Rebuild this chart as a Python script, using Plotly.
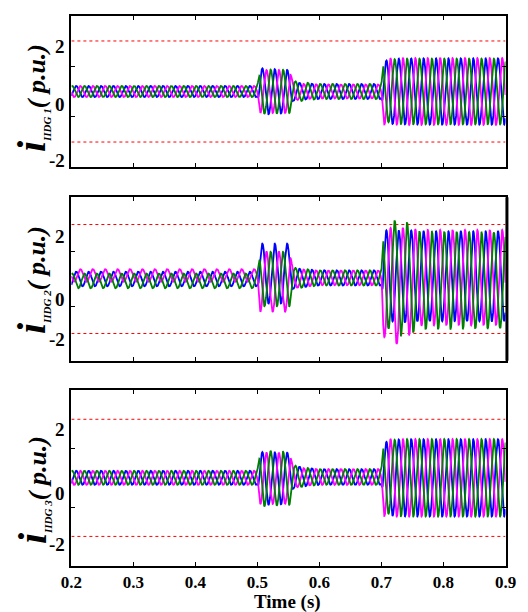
import numpy as np
import plotly.graph_objects as go

# ---------------------------------------------------------------------------
# Axis / tick values
# ---------------------------------------------------------------------------
TIME_START, TIME_END = 0.2, 0.9
X_TICK_VALUES = [0.2, 0.3, 0.4, 0.5, 0.6, 0.7, 0.8, 0.9]
X_TICK_TEXT = ["0.2", "0.3", "0.4", "0.5", "0.6", "0.7", "0.8", "0.9"]
Y_RANGE = [-3, 3]
Y_MINOR_TICKS = [-1, 1]
Y_TICK_TEXT = ["2", "0", "-2"]
LIMIT_LEVELS = [2, -2]          # current limit (p.u.), red dotted lines
GRID_FREQ_HZ = 50
PHASE_REF_DEG = -54             # phase of the blue phase at t = 0
PHASE_SHIFT_DEG = [0, -120, -240]   # blue, magenta, green
PHASE_COLORS = ["#0000ff", "#ff00ff", "#008000"]
PANEL_NAMES = ["IIDG 1", "IIDG 2", "IIDG 3"]

# Envelope breakpoints (s): steady, fault at 0.5 s, recovery ~0.555 s, 2nd event at 0.7 s
ENV_T = [0.200, 0.500, 0.504, 0.552, 0.557, 0.575, 0.600, 0.700, 0.703, 0.720, 0.740, 0.760, 0.900]

# Peak amplitude envelopes (p.u.) per unit and phase
DG1_AMP_BLUE    = [0.22, 0.22, 0.92, 0.85, 0.38, 0.32, 0.30, 0.30, 1.20, 1.30, 1.30, 1.31, 1.31]
DG1_AMP_MAGENTA = [0.22, 0.22, 0.85, 0.85, 0.36, 0.30, 0.28, 0.28, 1.30, 1.30, 1.32, 1.32, 1.32]
DG1_AMP_GREEN   = [0.22, 0.22, 0.88, 0.85, 0.42, 0.36, 0.30, 0.30, 1.15, 1.28, 1.30, 1.30, 1.30]

DG2_AMP_BLUE    = [0.27, 0.27, 1.10, 1.10, 0.38, 0.33, 0.28, 0.28, 1.70, 1.65, 1.70, 1.65, 1.65]
DG2_AMP_MAGENTA = [0.23, 0.23, 1.10, 1.10, 0.36, 0.32, 0.27, 0.27, 1.90, 2.20, 2.00, 1.75, 1.75]
DG2_AMP_GREEN   = [0.27, 0.27, 1.00, 1.00, 0.40, 0.34, 0.28, 0.28, 1.60, 2.10, 2.10, 1.80, 1.75]

DG2_OFF_BLUE    = [0.00, 0.00, 0.20, 0.20, 0.02, 0.03, 0.04, 0.04, 0.10, 0.10, 0.10, 0.10, 0.10]
DG2_OFF_MAGENTA = [0.13, 0.13, -0.10, -0.10, 0.02, 0.03, 0.04, 0.04, -0.20, -0.25, -0.15, 0.05, 0.05]
DG2_OFF_GREEN   = [-0.07, -0.07, 0.00, 0.00, 0.02, 0.03, 0.04, 0.04, 0.00, 0.05, 0.00, -0.05, -0.05]

DG3_AMP_BLUE    = [0.24, 0.24, 0.90, 0.88, 0.40, 0.32, 0.27, 0.27, 1.20, 1.30, 1.32, 1.32, 1.32]
DG3_AMP_MAGENTA = [0.24, 0.24, 0.88, 0.86, 0.38, 0.30, 0.27, 0.27, 1.30, 1.32, 1.32, 1.32, 1.32]
DG3_AMP_GREEN   = [0.24, 0.24, 0.95, 0.90, 0.41, 0.32, 0.27, 0.27, 1.15, 1.30, 1.32, 1.32, 1.32]
DG3_OFF_ALL     = [0.00, 0.00, -0.02, -0.02, 0.03, 0.03, 0.03, 0.03, 0.00, 0.00, 0.00, 0.00, 0.00]

ZERO_OFF = [0.0] * len(ENV_T)

PANELS = [
    ([DG1_AMP_BLUE, DG1_AMP_MAGENTA, DG1_AMP_GREEN], [ZERO_OFF, ZERO_OFF, ZERO_OFF]),
    ([DG2_AMP_BLUE, DG2_AMP_MAGENTA, DG2_AMP_GREEN], [DG2_OFF_BLUE, DG2_OFF_MAGENTA, DG2_OFF_GREEN]),
    ([DG3_AMP_BLUE, DG3_AMP_MAGENTA, DG3_AMP_GREEN], [DG3_OFF_ALL, DG3_OFF_ALL, DG3_OFF_ALL]),
]

# ---------------------------------------------------------------------------
# Layout geometry (paper fractions)
# ---------------------------------------------------------------------------
W, H = 528, 612
X_DOMAIN = [63 / W, 516 / W]
PANEL_PX = [(15.7, 167.3), (197.3, 360.7), (390.0, 565.7)]   # top, bottom in px
Y_DOMAINS = [[1 - b / H, 1 - t / H] for t, b in PANEL_PX]
YTICK_LABEL_PX = [(47, 104, 161), (236.7, 299.3, 339.3), (430, 493.3, 544.3)]
YTITLE_CENTER_PX = [98, 280, 490]

FONT = "Liberation Serif"

t = np.linspace(TIME_START, TIME_END, 3501)
omega = 2 * np.pi * GRID_FREQ_HZ

fig = go.Figure()
layout = dict(
    width=W, height=H,
    margin=dict(l=0, r=0, t=0, b=0),
    paper_bgcolor="white", plot_bgcolor="white",
    showlegend=False,
    annotations=[], shapes=[],
)

for p, (amps, offs) in enumerate(PANELS):
    idx = "" if p == 0 else str(p + 1)
    xname, yname = "x" + idx, "y" + idx
    for k in range(3):
        env = np.interp(t, ENV_T, amps[k])
        dc = np.interp(t, ENV_T, offs[k])
        ang = omega * t + np.deg2rad(PHASE_REF_DEG + PHASE_SHIFT_DEG[k])
        y = dc + env * np.sin(ang)
        fig.add_trace(go.Scatter(
            x=t, y=y, mode="lines", xaxis=xname, yaxis=yname,
            line=dict(color=PHASE_COLORS[k], width=1.8),
            hoverinfo="skip",
        ))

    bottom = p == 2
    layout["xaxis" + idx] = dict(
        domain=X_DOMAIN, anchor=yname, range=[TIME_START, TIME_END],
        showline=True, linecolor="black", linewidth=2, mirror="ticks",
        ticks="inside", ticklen=4, tickwidth=1, tickcolor="black",
        tickvals=X_TICK_VALUES if bottom else X_TICK_VALUES[1:-1],
        ticktext=X_TICK_TEXT if bottom else None,
        showticklabels=bottom,
        tickfont=dict(family=FONT, size=17, color="black", weight="bold"),
        showgrid=False, zeroline=False, fixedrange=True,
    )
    layout["yaxis" + idx] = dict(
        domain=Y_DOMAINS[p], anchor=xname, range=Y_RANGE,
        showline=True, linecolor="black", linewidth=2, mirror="ticks",
        ticks="inside", ticklen=4, tickwidth=1, tickcolor="black",
        tickvals=Y_MINOR_TICKS, showticklabels=False,
        showgrid=False, zeroline=False, fixedrange=True,
    )

    # red dotted current limits
    for lvl in LIMIT_LEVELS:
        layout["shapes"].append(dict(
            type="line", xref=xname, yref=yname,
            x0=TIME_START, x1=TIME_END, y0=lvl, y1=lvl,
            line=dict(color="#ff0000", width=1, dash="dot"), layer="below",
        ))

    # y tick labels
    for txt, ypx in zip(Y_TICK_TEXT, YTICK_LABEL_PX[p]):
        layout["annotations"].append(dict(
            text="<b>%s</b>" % txt, xref="paper", yref="paper",
            x=58 / W, y=1 - ypx / H, xanchor="right", yanchor="middle",
            showarrow=False, font=dict(family=FONT, size=19, color="black"),
        ))

    # y axis title
    title = ("<b><i><span style='font-size:40px'>i</span>"
             "<sub><span style='font-size:11px'>%s</span></sub>"
             "<span style='font-size:26px'>( p.u.)</span></i></b>") % PANEL_NAMES[p]
    layout["annotations"].append(dict(
        text=title, xref="paper", yref="paper",
        x=22 / W, y=1 - YTITLE_CENTER_PX[p] / H, xanchor="center", yanchor="middle",
        textangle=-90, showarrow=False, font=dict(family=FONT, size=26, color="black"),
    ))

# heavier right frame on the middle panel
layout["shapes"].append(dict(
    type="line", xref="paper", yref="paper",
    x0=517.5 / W, x1=517.5 / W, y0=Y_DOMAINS[1][0], y1=Y_DOMAINS[1][1],
    line=dict(color="black", width=3),
))

layout["annotations"].append(dict(
    text="<b>Time (s)</b>", xref="paper", yref="paper",
    x=289 / W, y=1 - 602 / H, xanchor="center", yanchor="middle",
    showarrow=False, font=dict(family=FONT, size=19, color="black"),
))

fig.update_layout(**layout)
fig.write_html("out.html")
